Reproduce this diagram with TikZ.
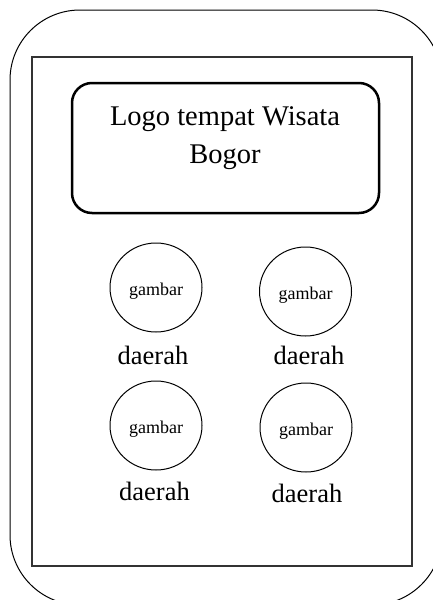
\documentclass[tikz,border=0pt]{standalone}
\usepackage{fontspec}
\setmainfont{Liberation Serif}
\usetikzlibrary{shapes.geometric}

\begin{document}
\begin{tikzpicture}[x=1pt,y=-1pt,
    gbr/.style={draw,ellipse,line width=1pt,minimum width=92pt,minimum height=89pt,
      inner sep=0pt,text height=16pt,text depth=0pt,font=\fontsize{18}{20}\selectfont},
    lbl/.style={anchor=base,inner sep=0pt,font=\fontsize{26.5}{30}\selectfont}]
    \useasboundingbox (0,0) rectangle (433,600);
    \clip (0,0) rectangle (433,600);
    % frame of the phone and the screen
    \draw [line width=1pt, rounded corners=70pt] (10,10) rectangle (442,605);
    \draw [line width=1.3pt, black!80] (32,57) rectangle (412,566);
    \node[draw, line width=2.5pt, rounded corners=20pt, minimum width=307pt,
      minimum height=130pt] (logo) at (225.5,148) {};
    \node[anchor=north, align=center, inner sep=0pt,
      font=\fontsize{28.5}{38}\selectfont] (judul) at (225,106) {Logo tempat Wisata\\Bogor};
    \node[gbr] (a) at (156, 287.5) {gambar};
    \node[gbr] (b) at (305.5, 291.5) {gambar};
    \node[gbr] (c) at (156, 425.5) {gambar};
    \node[gbr] (d) at (306, 427.5) {gambar};
    \node[lbl] (e) at (153, 364) {daerah};
    \node[lbl] (f) at (309, 364) {daerah};
    \node[lbl] (g) at (154.5, 500) {daerah};
    \node[lbl] (h) at (307, 502) {daerah};
  \end{tikzpicture}
\end{document}
